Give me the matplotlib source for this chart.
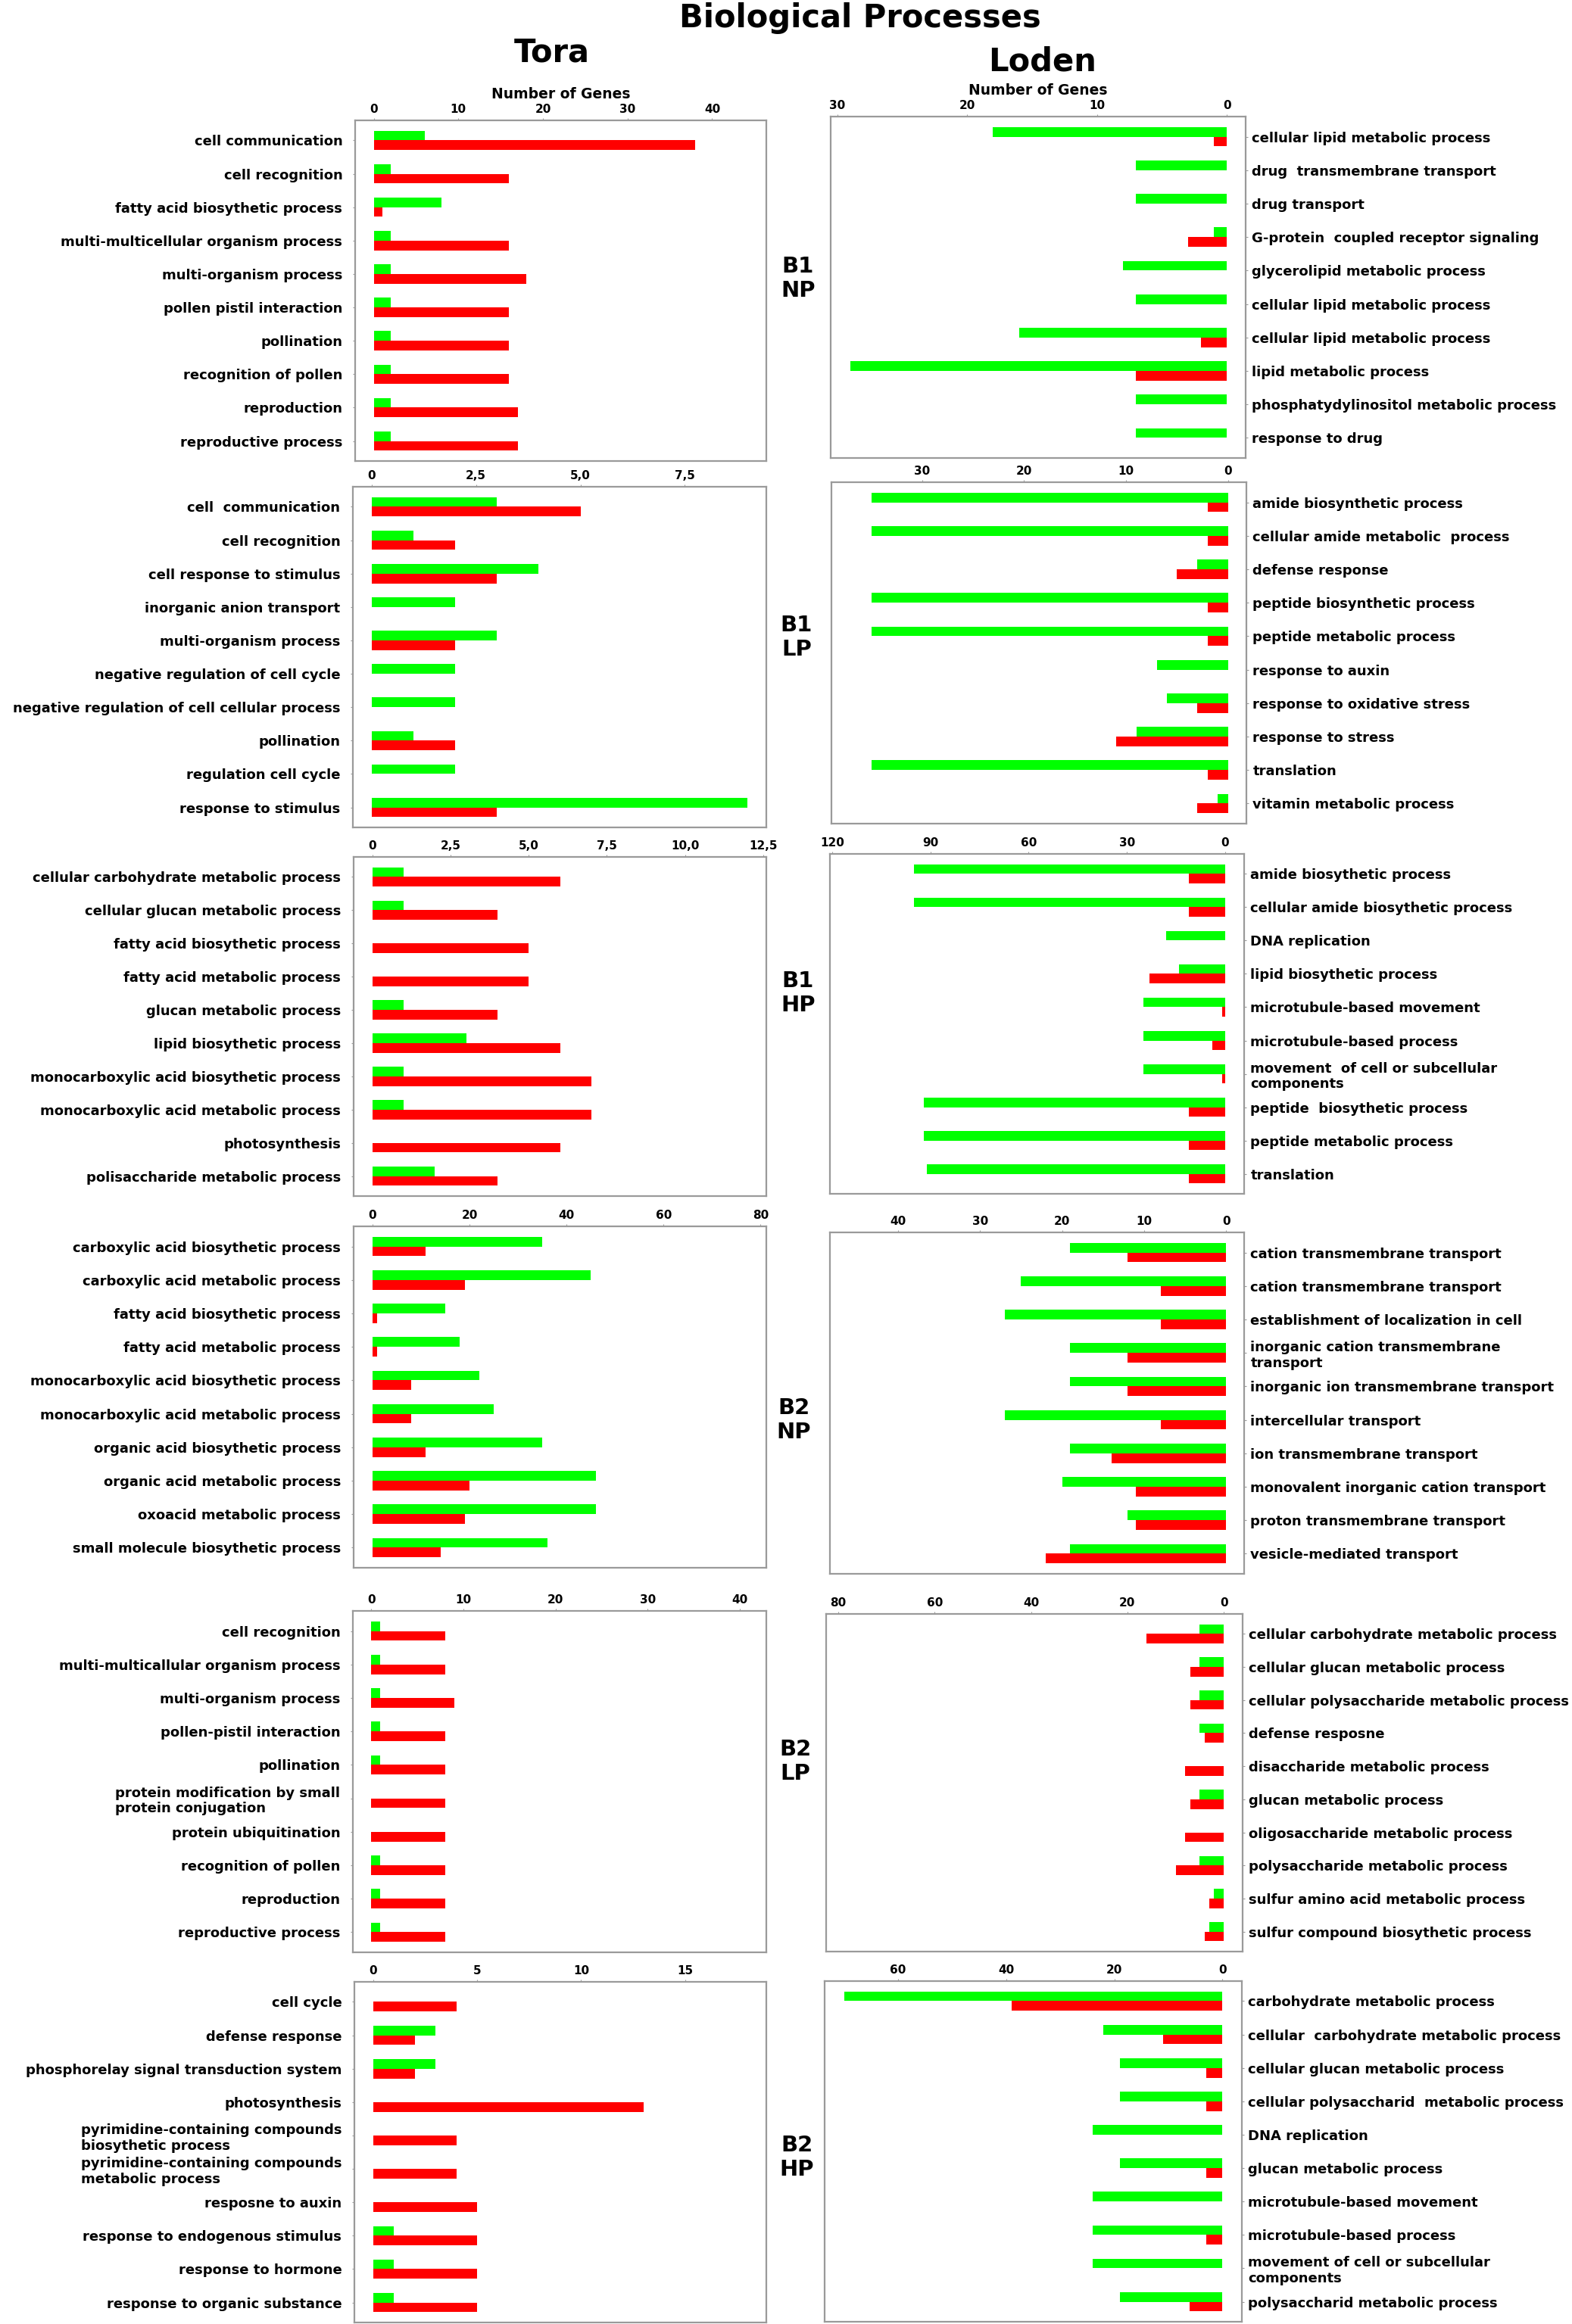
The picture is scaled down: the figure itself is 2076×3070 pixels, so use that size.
import matplotlib
matplotlib.use('Agg')
import matplotlib.pyplot as plt
import numpy as np

plt.rcParams['font.family'] = ['DejaVu Sans']

# ---------------- DATA ----------------
b1np_tora_labels = ["cell communication", "cell recognition", "fatty acid biosythetic process",
                    "multi-multicellular organism process", "multi-organism process",
                    "pollen pistil interaction", "pollination", "recognition of pollen",
                    "reproduction", "reproductive process"]
b1np_tora_green = [6, 2, 8, 2, 2, 2, 2, 2, 2, 2]
b1np_tora_red = [38, 16, 1, 16, 18, 16, 16, 16, 17, 17]

b1np_loden_labels = ["cellular lipid metabolic process", "drug  transmembrane transport", "drug transport",
                     "G-protein  coupled receptor signaling", "glycerolipid metabolic process",
                     "cellular lipid metabolic process", "cellular lipid metabolic process",
                     "lipid metabolic process", "phosphatydylinositol metabolic process", "response to drug"]
b1np_loden_green = [18, 7, 7, 1, 8, 7, 16, 29, 7, 7]
b1np_loden_red = [1, 0, 0, 3, 0, 0, 2, 7, 0, 0]

b1lp_tora_labels = ["cell  communication", "cell recognition", "cell response to stimulus",
                    "inorganic anion transport", "multi-organism process",
                    "negative regulation of cell cycle", "negative regulation of cell cellular process",
                    "pollination", "regulation cell cycle", "response to stimulus"]
b1lp_tora_green = [3, 1, 4, 2, 3, 2, 2, 1, 2, 9]
b1lp_tora_red = [5, 2, 3, 0, 2, 0, 0, 2, 0, 3]

b1lp_loden_labels = ["amide biosynthetic process", "cellular amide metabolic  process", "defense response",
                     "peptide biosynthetic process", "peptide metabolic process", "response to auxin",
                     "response to oxidative stress", "response to stress", "translation",
                     "vitamin metabolic process"]
b1lp_loden_green = [35, 35, 3, 35, 35, 7, 6, 9, 35, 1]
b1lp_loden_red = [2, 2, 5, 2, 2, 0, 3, 11, 2, 3]

b1hp_tora_labels = ["cellular carbohydrate metabolic process", "cellular glucan metabolic process",
                    "fatty acid biosythetic process", "fatty acid metabolic process",
                    "glucan metabolic process", "lipid biosythetic process",
                    "monocarboxylic acid biosythetic process", "monocarboxylic acid metabolic process",
                    "photosynthesis", "polisaccharide metabolic process"]
b1hp_tora_green = [1, 1, 0, 0, 1, 3, 1, 1, 0, 2]
b1hp_tora_red = [6, 4, 5, 5, 4, 6, 7, 7, 6, 4]

b1hp_loden_labels = ["amide biosythetic process", "cellular amide biosythetic process", "DNA replication",
                     "lipid biosythetic process", "microtubule-based movement", "microtubule-based process",
                     "movement  of cell or subcellular\ncomponents", "peptide  biosythetic process",
                     "peptide metabolic process", "translation"]
b1hp_loden_green = [95, 95, 18, 14, 25, 25, 25, 92, 92, 91]
b1hp_loden_red = [11, 11, 0, 23, 1, 4, 1, 11, 11, 11]

b2np_tora_labels = ["carboxylic acid biosythetic process", "carboxylic acid metabolic process",
                    "fatty acid biosythetic process", "fatty acid metabolic process",
                    "monocarboxylic acid biosythetic process", "monocarboxylic acid metabolic process",
                    "organic acid biosythetic process", "organic acid metabolic process",
                    "oxoacid metabolic process", "small molecule biosythetic process"]
b2np_tora_green = [35, 45, 15, 18, 22, 25, 35, 46, 46, 36]
b2np_tora_red = [11, 19, 1, 1, 8, 8, 11, 20, 19, 14]

b2np_loden_labels = ["cation transmembrane transport", "cation transmembrane transport",
                     "establishment of localization in cell", "inorganic cation transmembrane\ntransport",
                     "inorganic ion transmembrane transport", "intercellular transport",
                     "ion transmembrane transport", "monovalent inorganic cation transport",
                     "proton transmembrane transport", "vesicle-mediated transport"]
b2np_loden_green = [19, 25, 27, 19, 19, 27, 19, 20, 12, 19]
b2np_loden_red = [12, 8, 8, 12, 12, 8, 14, 11, 11, 22]

b2lp_tora_labels = ["cell recognition", "multi-multicallular organism process", "multi-organism process",
                    "pollen-pistil interaction", "pollination",
                    "protein modification by small\nprotein conjugation", "protein ubiquitination",
                    "recognition of pollen", "reproduction", "reproductive process"]
b2lp_tora_green = [1, 1, 1, 1, 1, 0, 0, 1, 1, 1]
b2lp_tora_red = [8, 8, 9, 8, 8, 8, 8, 8, 8, 8]

b2lp_loden_labels = ["cellular carbohydrate metabolic process", "cellular glucan metabolic process",
                     "cellular polysaccharide metabolic process", "defense resposne",
                     "disaccharide metabolic process", "glucan metabolic process",
                     "oligosaccharide metabolic process", "polysaccharide metabolic process",
                     "sulfur amino acid metabolic process", "sulfur compound biosythetic process"]
b2lp_loden_green = [5, 5, 5, 5, 0, 5, 0, 5, 2, 3]
b2lp_loden_red = [16, 7, 7, 4, 8, 7, 8, 10, 3, 4]

b2hp_tora_labels = ["cell cycle", "defense response", "phosphorelay signal transduction system",
                    "photosynthesis", "pyrimidine-containing compounds\nbiosythetic process",
                    "pyrimidine-containing compounds\nmetabolic process", "resposne to auxin",
                    "response to endogenous stimulus", "response to hormone", "response to organic substance"]
b2hp_tora_green = [0, 3, 3, 0, 0, 0, 0, 1, 1, 1]
b2hp_tora_red = [4, 2, 2, 13, 4, 4, 5, 5, 5, 5]

b2hp_loden_labels = ["carbohydrate metabolic process", "cellular  carbohydrate metabolic process",
                     "cellular glucan metabolic process", "cellular polysaccharid  metabolic process",
                     "DNA replication", "glucan metabolic process", "microtubule-based movement",
                     "microtubule-based process", "movement of cell or subcellular\ncomponents",
                     "polysaccharid metabolic process"]
b2hp_loden_green = [70, 22, 19, 19, 24, 19, 24, 24, 24, 19]
b2hp_loden_red = [39, 11, 3, 3, 0, 3, 0, 3, 0, 6]

# tick values / labels
tora_ticks = [[0, 10, 20, 30, 40], [0, 2.5, 5, 7.5], [0, 2.5, 5, 7.5, 10, 12.5],
              [0, 20, 40, 60, 80], [0, 10, 20, 30, 40], [0, 5, 10, 15]]
tora_ticklabels = [["0", "10", "20", "30", "40"], ["0", "2,5", "5,0", "7,5"],
                   ["0", "2,5", "5,0", "7,5", "10,0", "12,5"], ["0", "20", "40", "60", "80"],
                   ["0", "10", "20", "30", "40"], ["0", "5", "10", "15"]]
loden_ticks = [[30, 20, 10, 0], [30, 20, 10, 0], [120, 90, 60, 30, 0],
               [40, 30, 20, 10, 0], [80, 60, 40, 20, 0], [60, 40, 20, 0]]
row_names = ["B1\nNP", "B1\nLP", "B1\nHP", "B2\nNP", "B2\nLP", "B2\nHP"]

# ---------------- LAYOUT (pixels) ----------------
W, H = 2076, 3070
fig = plt.figure(figsize=(W / 100, H / 100), dpi=100)
GREEN = '#00FF00'
RED = '#FF0000'
FRAME = '#9a9a9a'
LABEL_FS = 13.0

tora_boxes = [(469, 159, 1012, 609), (466, 643, 1012, 1093), (467, 1132, 1012, 1580),
              (467, 1620, 1012, 2071), (466, 2128, 1012, 2579), (468, 2618, 1012, 3068)]
loden_boxes = [(1097, 154, 1645, 605), (1098, 637, 1646, 1088), (1096, 1128, 1643, 1577),
               (1096, 1628, 1643, 2079), (1091, 2132, 1641, 2578), (1089, 2617, 1640, 3067)]
tora_xlims = [(-2.2, 46.4), (-0.45, 9.45), (-0.6, 12.6), (-3.9, 81.2), (-2.0, 42.9), (-0.9, 18.9)]
loden_xlims = [(30.5, -1.45), (38.9, -1.8), (120.7, -5.8), (48.3, -2.2), (82.5, -3.9), (73.6, -3.6)]
row_label_pos = [(1054, 368), (1052, 842), (1054, 1312), (1048, 1876), (1050, 2327), (1052, 2850)]


def px_axes(box):
    x0, y0, x1, y1 = box
    return fig.add_axes([x0 / W, 1 - y1 / H, (x1 - x0) / W, (y1 - y0) / H])


def draw(ax, labels, green, red, ticks, ticklabels, xlim, side):
    y = np.arange(len(labels))
    h = 0.29
    ax.barh(y - h / 2, green, height=h, color=GREEN, linewidth=0)
    ax.barh(y + h / 2, red, height=h, color=RED, linewidth=0)
    ax.set_xlim(*xlim)
    ax.set_ylim(len(labels) - 1 + 0.6, -0.6)
    ax.xaxis.tick_top()
    ax.set_xticks(ticks)
    ax.set_xticklabels(ticklabels, fontsize=11, fontweight='bold')
    ax.set_yticks(y)
    if side == 'right':
        ax.yaxis.tick_right()
        ax.set_yticklabels(labels, fontsize=LABEL_FS, fontweight='bold')
        ax.tick_params(axis='y', length=2, pad=4, color=FRAME)
    else:
        ax.set_yticklabels(labels, fontsize=LABEL_FS, fontweight='bold')
        ax.tick_params(axis='y', length=2, pad=10, color=FRAME)
        for t in ax.get_yticklabels():
            t.set_multialignment('left')
    ax.tick_params(axis='x', length=2, pad=3, color=FRAME)
    for s in ax.spines.values():
        s.set_color(FRAME)
        s.set_linewidth(1.6)


tora_data = [(b1np_tora_labels, b1np_tora_green, b1np_tora_red),
             (b1lp_tora_labels, b1lp_tora_green, b1lp_tora_red),
             (b1hp_tora_labels, b1hp_tora_green, b1hp_tora_red),
             (b2np_tora_labels, b2np_tora_green, b2np_tora_red),
             (b2lp_tora_labels, b2lp_tora_green, b2lp_tora_red),
             (b2hp_tora_labels, b2hp_tora_green, b2hp_tora_red)]
loden_data = [(b1np_loden_labels, b1np_loden_green, b1np_loden_red),
              (b1lp_loden_labels, b1lp_loden_green, b1lp_loden_red),
              (b1hp_loden_labels, b1hp_loden_green, b1hp_loden_red),
              (b2np_loden_labels, b2np_loden_green, b2np_loden_red),
              (b2lp_loden_labels, b2lp_loden_green, b2lp_loden_red),
              (b2hp_loden_labels, b2hp_loden_green, b2hp_loden_red)]

for i in range(6):
    axl = px_axes(tora_boxes[i])
    lab, g, r = tora_data[i]
    draw(axl, lab, g, r, tora_ticks[i], tora_ticklabels[i], tora_xlims[i], 'left')
    axr = px_axes(loden_boxes[i])
    lab, g, r = loden_data[i]
    draw(axr, lab, g, r, loden_ticks[i], [str(t) for t in loden_ticks[i]], loden_xlims[i], 'right')
    if i == 0:
        for ax in (axl, axr):
            ax.xaxis.set_label_position('top')
            ax.set_xlabel("Number of Genes", fontsize=13.5, fontweight='bold', labelpad=5)
    x, yy = row_label_pos[i]
    fig.text(x / W, 1 - yy / H, row_names[i], fontsize=21, fontweight='bold',
             ha='center', va='center', linespacing=1.15)

fig.text(1136 / W, 1 - 24 / H, "Biological Processes", fontsize=30, fontweight='bold',
         ha='center', va='center')
fig.text(729 / W, 1 - 69 / H, "Tora", fontsize=30, fontweight='bold', ha='center', va='center')
fig.text(1377 / W, 1 - 82 / H, "Loden", fontsize=30, fontweight='bold', ha='center', va='center')

fig.savefig('out.png', dpi=100, facecolor='white')
